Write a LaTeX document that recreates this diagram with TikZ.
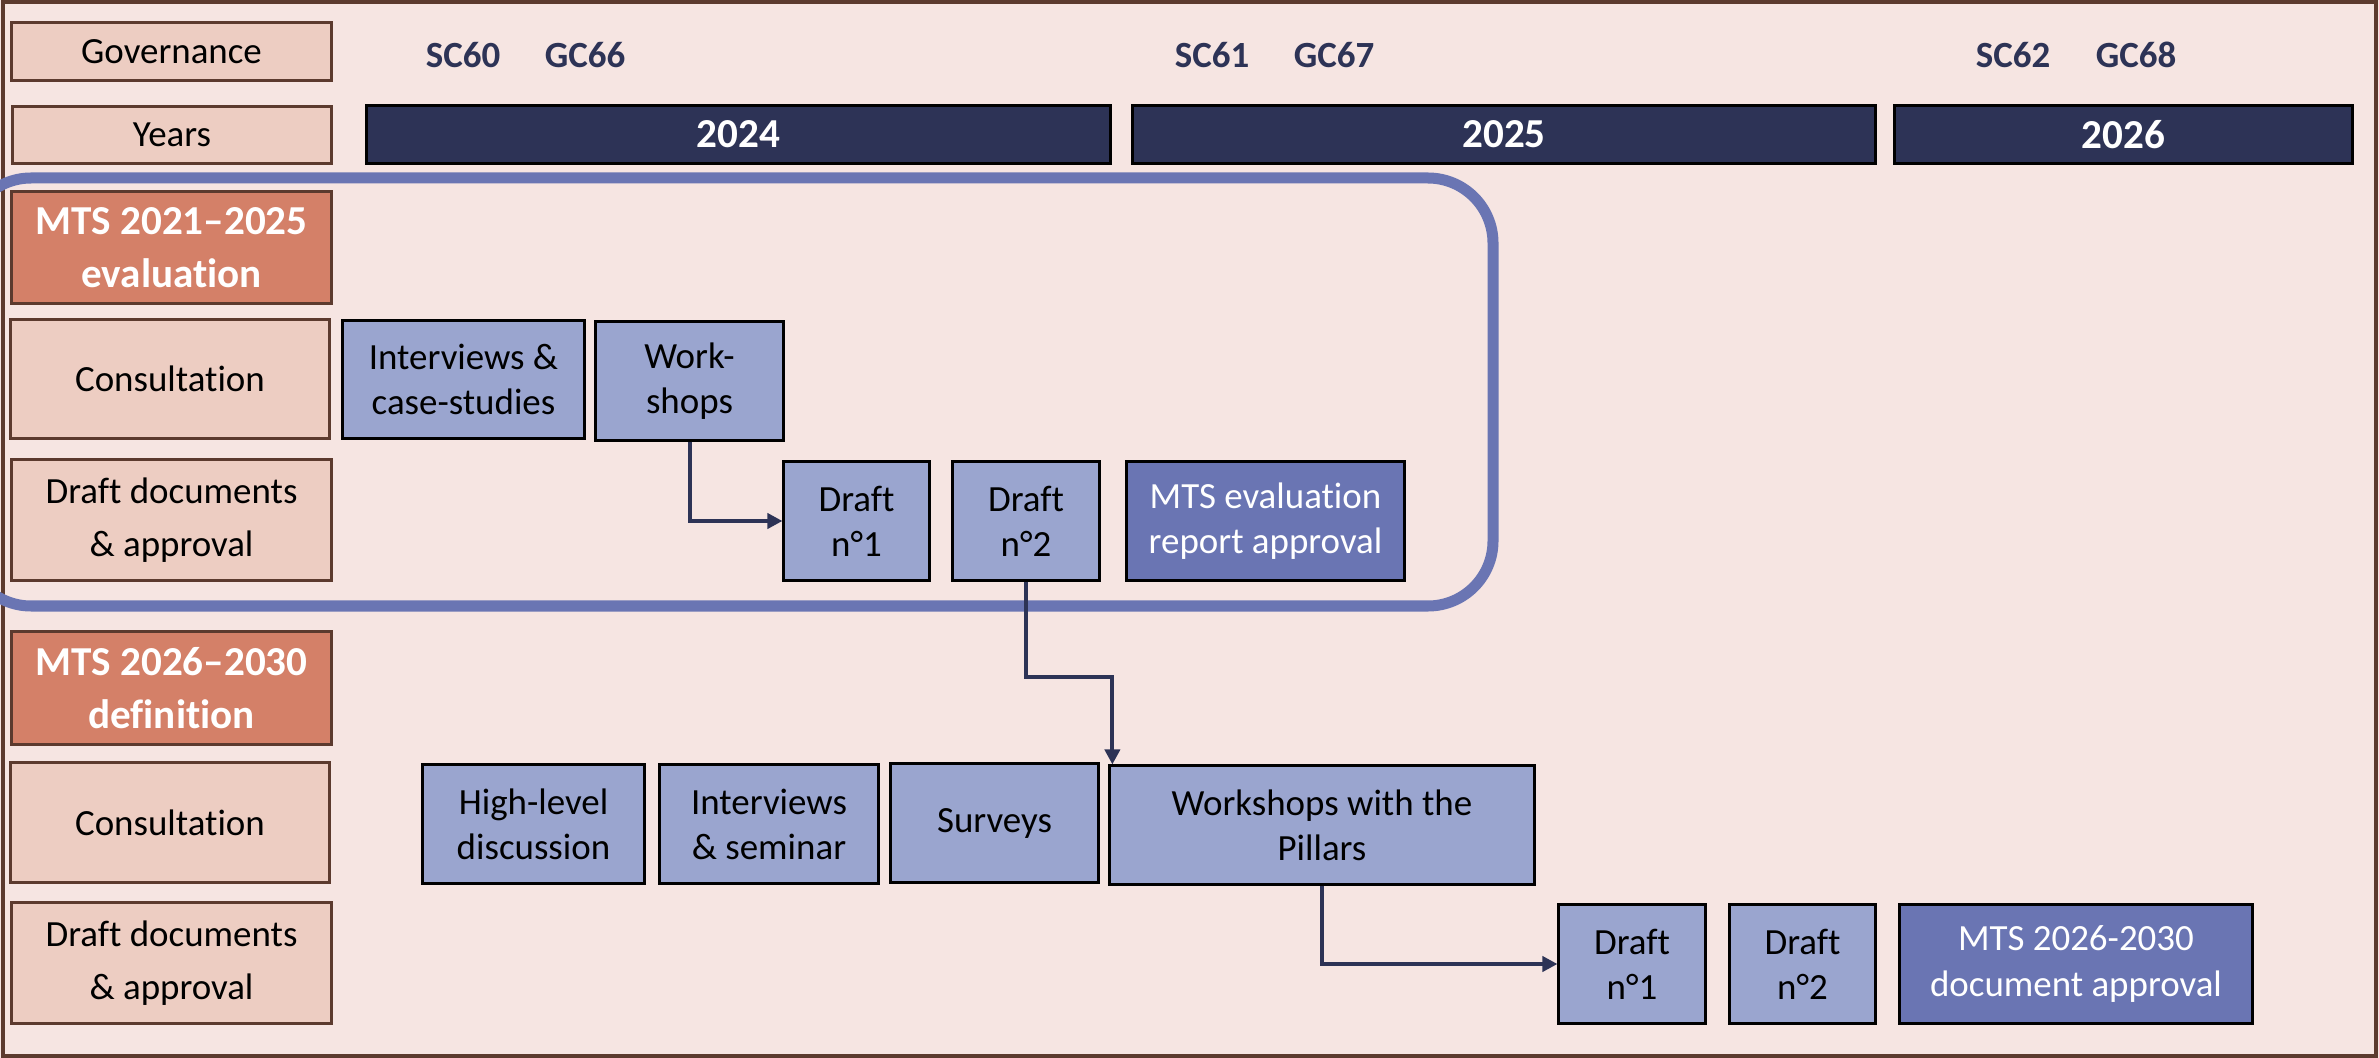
\documentclass[tikz,border=0pt]{standalone}
\usepackage{fontspec}
\setmainfont{Carlito}[Ligatures=NoCommon]
\usetikzlibrary{arrows.meta}
\definecolor{bgpink}{HTML}{F6E5E2}
\definecolor{lblfill}{HTML}{EDCDC2}
\definecolor{lblline}{HTML}{5C3A2E}
\definecolor{secfill}{HTML}{D48068}
\definecolor{navy}{HTML}{2D3356}
\definecolor{actfill}{HTML}{9AA5CF}
\definecolor{apprfill}{HTML}{6A75B3}
\newcommand*{\RegFont}{\fontsize{10.5}{12.8}\selectfont}
\newcommand*{\BigFont}{\bfseries\fontsize{11.7}{15}\selectfont}

\begin{document}
\begin{tikzpicture}[x=0.01cm, y=-0.01cm,
    lbl/.style={draw=lblline, fill=lblfill, line width=0.03cm, minimum width=3.19cm,
        inner sep=0pt, align=center, font=\fontsize{10.5}{15}\selectfont},
    sec/.style={lbl, fill=secfill, text=white, font=\BigFont},
    yr/.style={draw=black, fill=navy, line width=0.03cm, text=white, inner sep=0pt,
        minimum height=0.57cm, font=\BigFont},
    gov/.style={text=navy, font=\bfseries\RegFont},
    act/.style={draw=black, fill=actfill, line width=0.03cm, inner sep=0pt,
        align=center, minimum height=1.18cm, font=\RegFont},
    appr/.style={act, fill=apprfill, text=white},
    arr/.style={draw=navy, line width=0.04cm, -{Triangle[length=0.15cm,width=0.15cm]}},
    mtsframe/.style={draw=apprfill, line width=0.11cm, rounded corners=0.65cm}]
    \useasboundingbox (0,0) rectangle (2379,1058);
    \fill[bgpink] (0,0) rectangle (2379,1058);
    \draw[lblline, line width=0.035cm] (3,2) rectangle (2376,1056);
    % frame round the evaluation phase
    \draw[mtsframe] (-34,178) rectangle (1493,606);

    % row labels
    \node[lbl, minimum height=0.57cm] (gov) at (171.5,51.5) {Governance};
    \node[lbl, minimum height=0.56cm] (years) at (172,135) {Years};
    \node[sec, minimum height=1.11cm] (evalhead) at (171.5,247.5) {MTS 2021–2025\\evaluation};
    \node[lbl, minimum height=1.18cm] (cons1) at (170,379) {Consultation};
    \node[lbl, minimum height=1.20cm] (drafts1) at (171.5,520) {Draft documents\\\& approval};
    \node[sec, minimum height=1.12cm] (defhead) at (171.5,688) {MTS 2026–2030\\definition};
    \node[lbl, minimum height=1.19cm] (cons2) at (170,822.5) {Consultation};
    \node[lbl, minimum height=1.20cm] (drafts2) at (171.5,963) {Draft documents\\\& approval};

    % governance meetings
    \node[gov] (sc60) at (463,55) {SC60};
    \node[gov] (gc66) at (585,55) {GC66};
    \node[gov] (sc61) at (1212,55) {SC61};
    \node[gov] (gc67) at (1334,55) {GC67};
    \node[gov] (sc62) at (2013,55) {SC62};
    \node[gov] (gc68) at (2136,55) {GC68};

    % years
    \node[yr, minimum width=7.43cm] (y24) at (738.5,134.5) {2024};
    \node[yr, minimum width=7.42cm] (y25) at (1504,134.5) {2025};
    \node[yr, minimum width=4.57cm] (y26) at (2123.5,134.5) {2026};

    % evaluation
    \node[act, minimum width=2.41cm] (intv1) at (463.5,379.5) {Interviews \&\\case-studies};
    \node[act, minimum width=1.87cm] (wshop1) at (689.5,381) {Work-\\shops};
    \node[act, minimum width=1.45cm] (dA1) at (856.5,521) {Draft\\n°1};
    \node[act, minimum width=1.46cm] (dA2) at (1026,521) {Draft\\n°2};
    \node[appr, minimum width=2.77cm] (evalappr) at (1265.5,521) {MTS evaluation\\report approval};

    % definition
    \node[act, minimum width=2.21cm] (hilvl) at (533.5,824) {High-level\\discussion};
    \node[act, minimum width=2.18cm] (intv2) at (769,824) {Interviews\\\& seminar};
    \node[act, minimum width=2.07cm] (surv) at (994.5,823) {Surveys};
    \node[act, minimum width=4.24cm] (wpill) at (1322,825) {Workshops with the\\Pillars};
    \node[act, minimum width=1.46cm] (dB1) at (1632,964) {Draft\\n°1};
    \node[act, minimum width=1.45cm] (dB2) at (1802.5,964) {Draft\\n°2};
    \node[appr, minimum width=3.52cm] (docappr) at (2076,964) {MTS 2026-2030\\document approval};

    % links
    \draw[arr] (wshop1.south) |- (dA1.west);
    \draw[arr] (dA2.south) -- ++(0,95) -| ([xshift=0.04cm]wpill.north west);
    \draw[arr] (wpill.south) |- (dB1.west);
\end{tikzpicture}
\end{document}
